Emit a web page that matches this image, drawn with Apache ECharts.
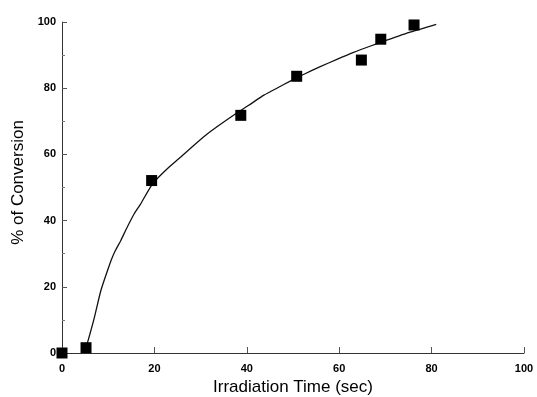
<!DOCTYPE html>
<html>
<head>
<meta charset="utf-8">
<script src="https://cdn.jsdelivr.net/npm/echarts@6/dist/echarts.min.js"></script>
<style>
html,body{margin:0;padding:0;background:#fff;}
#chart{width:537px;height:397px;}
</style>
</head>
<body>
<div id="chart"></div>
<script>
// Measured data points (irradiation time in sec, % conversion)
const pointTimes = [0, 5.2, 19.4, 38.7, 50.8, 64.8, 69.0, 76.2];
const pointConversion = [0, 1.6, 52.1, 71.8, 83.6, 88.5, 94.8, 99.1];

// Fitted curve
const curveTimes = [5.4, 6, 7, 8.4, 9.5, 10.6, 11.5, 12.7, 14, 15.6, 17, 19.6, 22.5, 25.7, 28.5, 31.1, 34, 37.6, 40.5, 43.7, 46.5, 49.5, 52.5, 55.9, 59.5, 63.1, 66.5, 70.3, 75.5, 81];
const curveConversion = [2.6, 5.5, 10.7, 18.8, 23.5, 27.9, 30.8, 33.9, 37.7, 42, 45, 51.1, 55.3, 59.2, 62.7, 65.8, 68.8, 72.3, 74.9, 77.9, 80, 82.2, 84.3, 86.5, 88.7, 90.8, 92.6, 94.5, 97, 99.3];

const xTicks = [0, 20, 40, 60, 80, 100];
const yTicks = [0, 20, 40, 60, 80, 100];

const font = '"Liberation Sans", Arial, sans-serif';
const chart = echarts.init(document.getElementById('chart'), null, {renderer: 'canvas'});

chart.setOption({
  animation: false,
  backgroundColor: '#fff',
  grid: {left: 62, right: 13, top: 22, bottom: 44, containLabel: false, outerBoundsMode: 'none'},
  xAxis: {
    type: 'value',
    min: xTicks[0], max: xTicks[xTicks.length - 1], interval: 20,
    name: 'Irradiation Time (sec)',
    nameLocation: 'middle',
    nameGap: 25,
    nameTextStyle: {fontFamily: font, fontSize: 17, color: '#000'},
    axisLine: {lineStyle: {color: '#333', width: 1}},
    axisTick: {inside: true, length: 6, lineStyle: {color: '#555'}},
    axisLabel: {fontFamily: font, fontSize: 11, fontWeight: 'bold', color: '#000', margin: 10},
    splitLine: {show: false}
  },
  yAxis: {
    type: 'value',
    min: yTicks[0], max: yTicks[yTicks.length - 1], interval: 20,
    name: '% of Conversion',
    nameLocation: 'middle',
    nameGap: 27,
    nameTextStyle: {fontFamily: font, fontSize: 17, color: '#000', padding: [0, 0, 0, 10]},
    axisLine: {lineStyle: {color: '#333', width: 1}},
    axisTick: {inside: true, length: 5, lineStyle: {color: '#555'}},
    minorTick: {show: true, splitNumber: 2, length: 3, lineStyle: {color: '#777'}},
    axisLabel: {fontFamily: font, fontSize: 11, fontWeight: 'bold', color: '#000', margin: 6},
    splitLine: {show: false}
  },
  series: [
    {
      type: 'line',
      data: curveTimes.map((t, i) => [t, curveConversion[i]]),
      smooth: 0.2,
      showSymbol: false,
      lineStyle: {color: '#111', width: 1.3},
      z: 2
    },
    {
      type: 'scatter',
      data: pointTimes.map((t, i) => [t, pointConversion[i]]),
      symbol: 'rect',
      symbolSize: 11,
      itemStyle: {color: '#000', opacity: 1},
      z: 3
    }
  ]
});
</script>
</body>
</html>
